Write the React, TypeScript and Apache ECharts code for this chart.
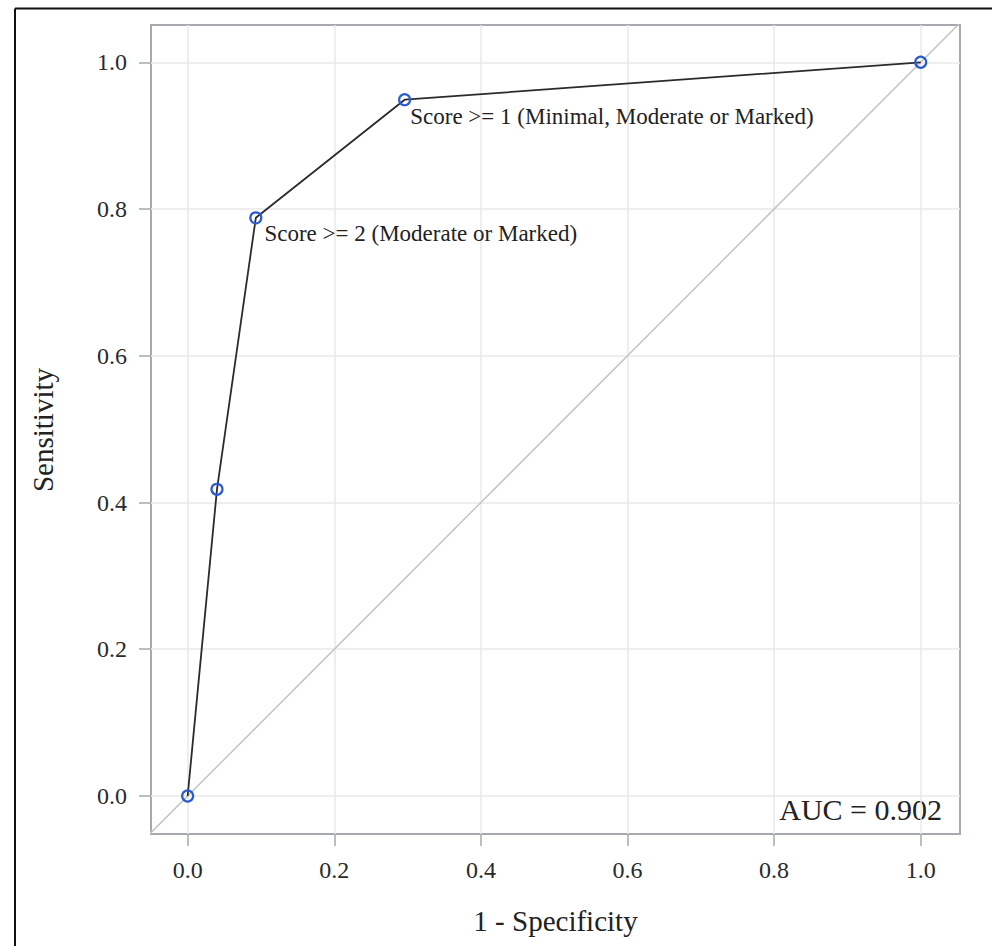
import React, { useEffect, useRef } from 'react';
import * as echarts from 'echarts';

// ---- data ----
const fpr = [0, 0.040, 0.093, 0.296, 1.0];
const tpr = [0, 0.418, 0.788, 0.949, 1.0];
const cutLabels = ['', '', 'Score >= 2 (Moderate or Marked)', 'Score >= 1 (Minimal, Moderate or Marked)', ''];
const tickValues = [0, 0.2, 0.4, 0.6, 0.8, 1.0];
const diagX = [-0.1, 1.1];
const diagY = [-0.1, 1.1];
const aucText = 'AUC = 0.902';
const xTitle = '1 - Specificity';
const yTitle = 'Sensitivity';

// ---- style ----
const FONT = "Liberation Serif";
const labelOffsets: number[][] = [[0, 0], [0, 0], [2, 16], [-1, 17], [0, 0]];
const FRAME = '#a6aaae';
const GRIDC = '#e8e8e8';

export default function App() {
  const ref = useRef<HTMLDivElement>(null);

  useEffect(() => {
    if (!ref.current) return;
    const chart = echarts.init(ref.current, undefined, { renderer: 'svg' });

    const rocData = fpr.map((x, i) => {
      const item: any = { value: [x, tpr[i]] };
      if (cutLabels[i]) {
        item.label = {
          show: true,
          formatter: cutLabels[i],
          offset: labelOffsets[i],
        };
      }
      return item;
    });

    const axisCommon = (min: number, max: number) => ({
      type: 'value',
      min,
      max,
      axisLine: { show: false, onZero: false },
      axisTick: {
        show: true,
        customValues: tickValues,
        length: 12,
        inside: false,
        lineStyle: { color: FRAME, width: 1.5 },
      },
      axisLabel: {
        customValues: tickValues,
        formatter: (v: number) => v.toFixed(1),
        fontFamily: FONT,
        fontSize: 24,
        color: '#2a2a2a',
        margin: 24,
      },
      splitLine: { show: true, lineStyle: { color: GRIDC, width: 1.5 } },
    });

    chart.setOption({
      animation: false,
      backgroundColor: '#ffffff',
      textStyle: { fontFamily: FONT },
      grid: {
        left: 151,
        right: 32,
        top: 25,
        bottom: 112,
        show: true,
        borderColor: FRAME,
        borderWidth: 2,
        backgroundColor: 'transparent',
      },
      xAxis: axisCommon(-0.05, 1.0536),
      yAxis: axisCommon(-0.0518, 1.0508),
      series: [
        {
          type: 'line',
          name: 'Reference',
          data: diagX.map((x, i) => [x, diagY[i]]),
          showSymbol: false,
          symbol: 'none',
          clip: true,
          lineStyle: { color: '#c4c4c4', width: 1.5 },
          silent: true,
          z: 2,
        },
        {
          type: 'line',
          name: 'ROC',
          data: rocData,
          symbol: 'circle',
          symbolSize: 11,
          showSymbol: true,
          lineStyle: { color: '#2b2b2b', width: 1.8 },
          itemStyle: { color: 'rgba(255,255,255,0)', borderColor: '#2a5bd0', borderWidth: 2.2 },
          label: {
            show: false,
            position: 'right',
            distance: 0,
            align: 'left',
            verticalAlign: 'middle',
            fontFamily: FONT,
            fontSize: 23,
            color: '#222',
          },
          z: 3,
        },
      ],
      graphic: [
        {
          type: 'line',
          shape: { x1: 15, y1: 8.5, x2: 992, y2: 8.5 },
          style: { stroke: '#111', lineWidth: 2 },
        },
        {
          type: 'line',
          shape: { x1: 15, y1: 8.5, x2: 15, y2: 946 },
          style: { stroke: '#111', lineWidth: 2 },
        },
        {
          type: 'text',
          x: 555.5,
          y: 921,
          style: {
            text: xTitle,
            fontFamily: FONT,
            fontSize: 29,
            fill: '#222',
            align: 'center',
            verticalAlign: 'middle',
          },
        },
        {
          type: 'text',
          x: 43,
          y: 430,
          rotation: Math.PI / 2,
          style: {
            text: yTitle,
            fontFamily: FONT,
            fontSize: 29,
            fill: '#222',
            align: 'center',
            verticalAlign: 'middle',
          },
        },
        {
          type: 'text',
          x: 942,
          y: 809,
          style: {
            text: aucText,
            fontFamily: FONT,
            fontSize: 30,
            fill: '#222',
            align: 'right',
            verticalAlign: 'middle',
          },
        },
      ],
    });

    return () => chart.dispose();
  }, []);

  return (
    <div
      ref={ref}
      style={{ position: 'absolute', left: 0, top: 0, width: 992, height: 946 }}
    />
  );
}
